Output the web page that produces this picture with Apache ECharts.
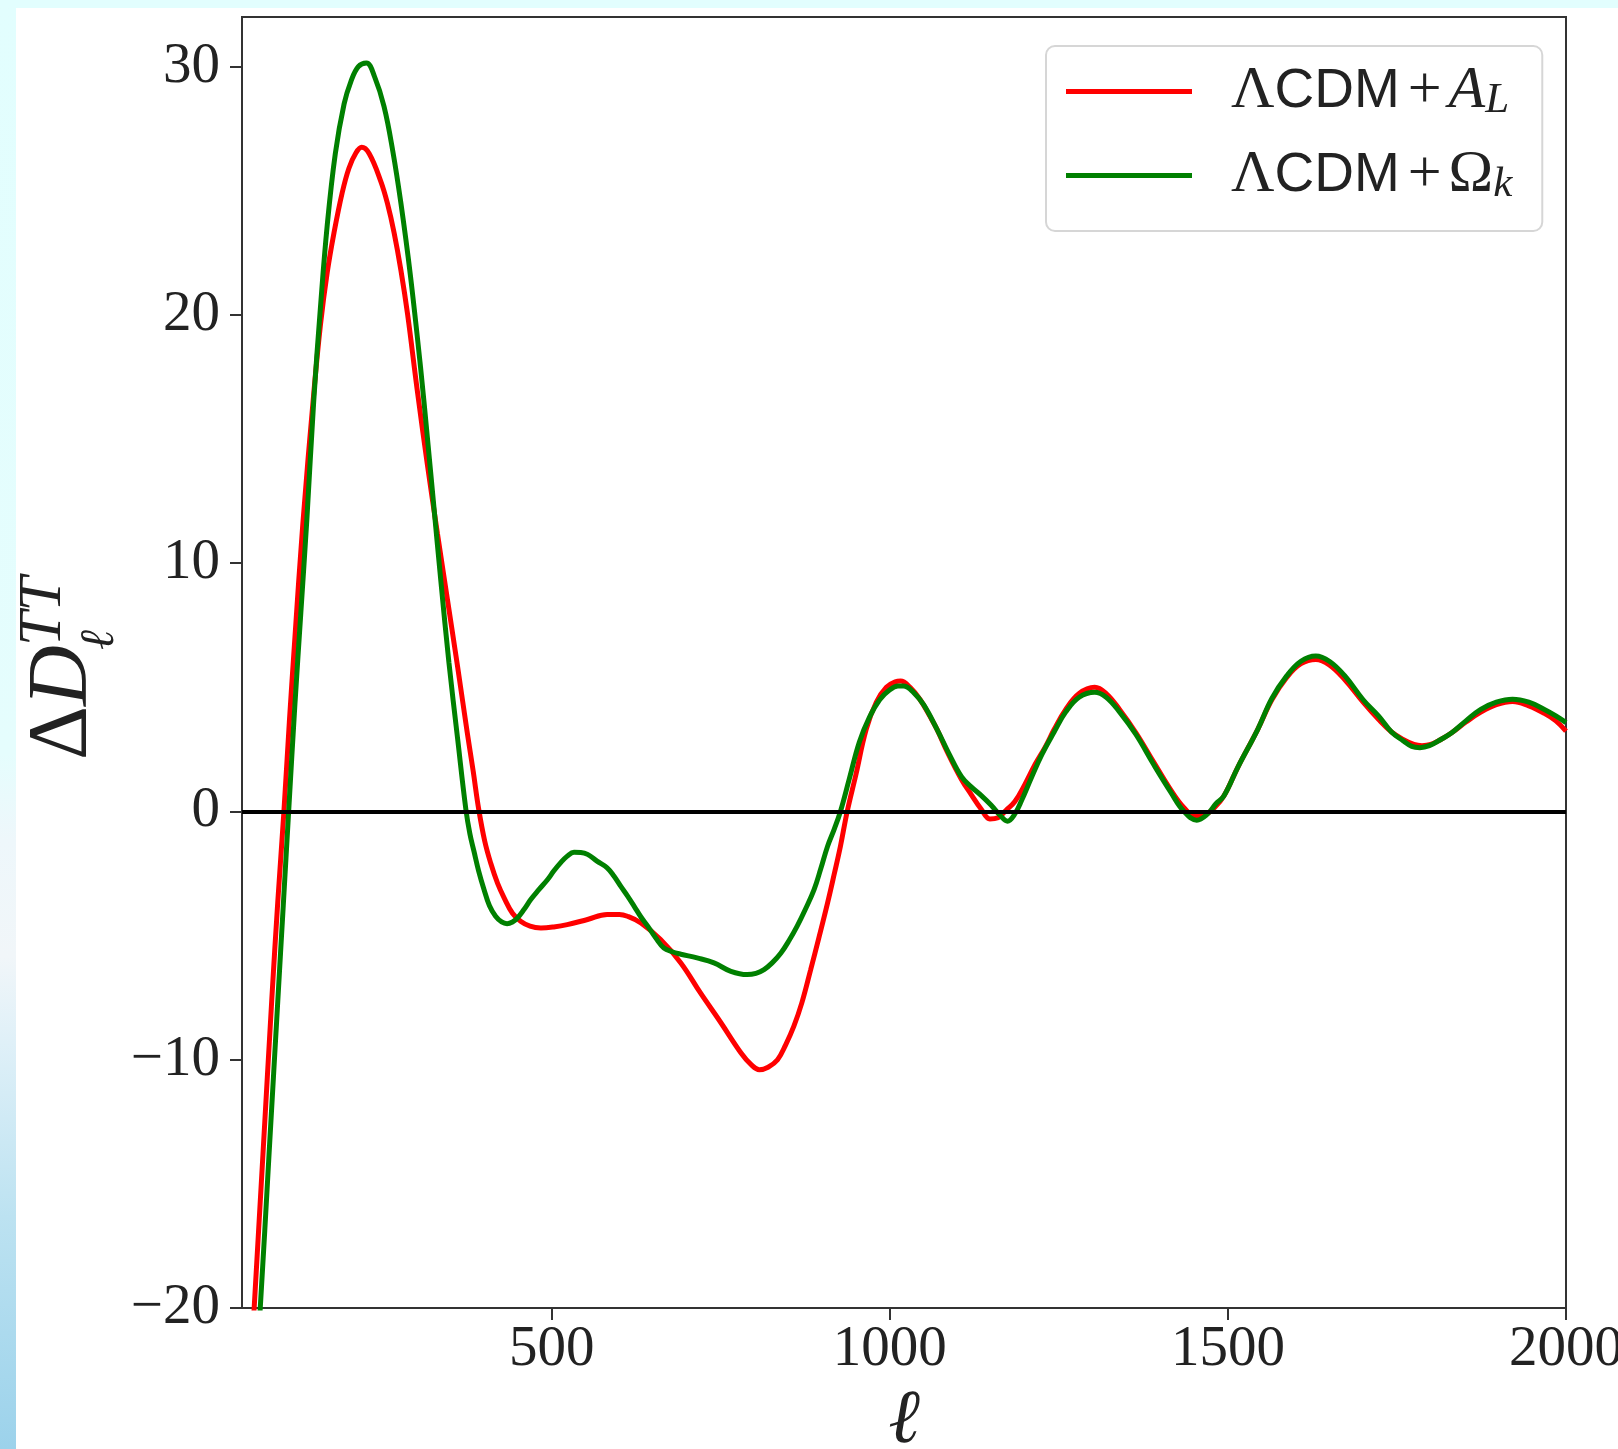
<!DOCTYPE html>
<html>
<head>
<meta charset="utf-8">
<script src="https://cdn.jsdelivr.net/npm/echarts@6/dist/echarts.min.js"></script>
<style>
  html, body { margin: 0; padding: 0; width: 1618px; height: 1449px; overflow: hidden; }
  body { background: linear-gradient(to bottom, #e2fefe 0%, #e5fdfd 52%, #eef7fb 58%, #f1f6f9 66%, #dff0f8 72%, #bce2f1 84%, #9cd2eb 100%); }
  #panel { position: absolute; left: 16px; top: 8px; right: 0; bottom: 0; background: #ffffff; }
  #chart { position: absolute; left: 0; top: 0; width: 1618px; height: 1449px; }
</style>
</head>
<body>
<div id="panel"></div>
<div id="chart"></div>
<script>
// ---- data ----
const xTicks = [500, 1000, 1500, 2000];
const yTicks = [-20, -10, 0, 10, 20, 30];
const seriesNames = ['ΛCDM+A_L', 'ΛCDM+Ω_k'];

const redEll = [
  42, 50, 60, 73, 86, 95, 104, 112, 120, 132,
  148, 158, 168, 178, 190, 200, 210, 219, 230, 247,
  257, 267, 277, 287, 301, 316, 331, 346, 361, 375,
  384, 392, 401, 410, 420, 430, 442, 454, 468, 484,
  503, 523, 553, 582, 600, 612, 632, 661, 691, 720,
  750, 780, 795, 807, 820, 834, 846, 858, 870, 883,
  895, 908, 918, 927, 937, 950, 965, 980, 995, 1008,
  1016, 1030, 1045, 1060, 1070, 1085, 1106, 1120, 1135, 1148,
  1160, 1172, 1185, 1200, 1215, 1230, 1243, 1260, 1280, 1303,
  1320, 1340, 1364, 1390, 1415, 1435, 1452, 1465, 1480, 1494,
  1515, 1544, 1565, 1587, 1608, 1630, 1650, 1673, 1700, 1723,
  1742, 1759, 1775, 1787, 1800, 1815, 1831, 1852, 1874, 1897,
  1921, 1945, 1968, 1985, 2000
];
const redDelta = [
  -28.6, -24.8, -20, -13.8, -7.6, -3.6, 0, 3.6, 6.9, 11.6,
  16.8, 19.6, 21.7, 23.3, 24.9, 25.9, 26.5, 26.75, 26.5, 25.4,
  24.5, 23.3, 21.8, 20.0, 17.0, 14.0, 11.2, 8.5, 5.8, 3.2,
  1.6, 0.1, -1.2, -2.1, -2.9, -3.5, -4.1, -4.42, -4.62, -4.69,
  -4.65, -4.56, -4.35, -4.15, -4.15, -4.22, -4.49, -5.16, -6.1, -7.31,
  -8.5, -9.73, -10.2, -10.4, -10.3, -10.0, -9.4, -8.66, -7.7, -6.37,
  -5.1, -3.68, -2.5, -1.4, 0, 1.5, 3.3, 4.4, 5.0, 5.22,
  5.25, 5.0, 4.5, 3.8, 3.3, 2.4, 1.29, 0.7, 0.1, -0.3,
  -0.25, 0.05, 0.4, 1.1, 1.9, 2.6, 3.3, 4.1, 4.75, 5.0,
  4.75, 4.1, 3.17, 2.0, 0.89, 0.15, -0.2, -0.15, 0.15, 0.62,
  1.8, 3.3, 4.5, 5.4, 5.95, 6.12, 5.9, 5.3, 4.4, 3.7,
  3.2, 2.9, 2.7, 2.65, 2.7, 2.9, 3.17, 3.6, 4.0, 4.3,
  4.43, 4.25, 3.95, 3.65, 3.24
];

const greenEll = [
  42, 55, 69, 82, 95, 103, 111, 120, 129, 138,
  148, 158, 168, 180, 193, 203, 214, 226, 238, 252,
  265, 277, 291, 306, 316, 326, 336, 348, 361, 373,
  379, 385, 392, 400, 408, 417, 426, 434, 442, 449,
  459, 469, 481, 494, 503, 513, 523, 533, 543, 553,
  567, 582, 592, 602, 612, 622, 632, 642, 654, 666,
  678, 691, 715, 740, 765, 789, 802, 814, 826, 839,
  851, 863, 875, 888, 898, 908, 918, 927, 940, 955,
  970, 985, 1000, 1012, 1020, 1035, 1050, 1070, 1088, 1106,
  1120, 1135, 1150, 1163, 1174, 1185, 1195, 1210, 1225, 1243,
  1260, 1280, 1303, 1320, 1340, 1364, 1390, 1415, 1435, 1454,
  1470, 1482, 1494, 1515, 1544, 1565, 1587, 1608, 1630, 1650,
  1673, 1700, 1723, 1742, 1759, 1772, 1784, 1798, 1815, 1831,
  1852, 1874, 1897, 1921, 1945, 1968, 1985, 2000
];
const greenDelta = [
  -31.5, -25.8, -20, -13.8, -7.6, -3.8, 0, 4.2, 8.0, 11.8,
  16.5, 20.3, 23.6, 26.5, 28.5, 29.4, 30.0, 30.15, 29.6, 28.4,
  26.6, 24.5, 21.6, 17.9, 15.1, 12.2, 9.3, 6.0, 2.9, 0.1,
  -0.9, -1.6, -2.4, -3.15, -3.8, -4.22, -4.45, -4.52, -4.45, -4.3,
  -3.95, -3.55, -3.15, -2.74, -2.4, -2.07, -1.8, -1.64, -1.65, -1.73,
  -2.0, -2.27, -2.6, -3.01, -3.4, -3.82, -4.25, -4.62, -5.1, -5.5,
  -5.65, -5.75, -5.9, -6.1, -6.44, -6.57, -6.52, -6.37, -6.1, -5.7,
  -5.2, -4.62, -3.95, -3.15, -2.3, -1.4, -0.7, 0, 1.3, 2.8,
  3.8, 4.5, 4.9, 5.05, 5.05, 4.8, 4.3, 3.3, 2.3, 1.4,
  1.0, 0.65, 0.25, -0.15, -0.39, -0.1, 0.45, 1.4, 2.3, 3.2,
  4.0, 4.6, 4.8, 4.6, 4.0, 3.1, 1.9, 0.8, 0.0, -0.35,
  -0.1, 0.3, 0.62, 1.8, 3.3, 4.55, 5.46, 6.05, 6.26, 6.05,
  5.46, 4.5, 3.84, 3.2, 2.85, 2.62, 2.57, 2.65, 2.9, 3.17,
  3.65, 4.11, 4.4, 4.52, 4.4, 4.11, 3.85, 3.58
];

// ---- build ----
function zip(xs, ys) { return xs.map((x, i) => [x, ys[i]]); }
const SERIF = '"Liberation Serif", "DejaVu Serif", serif';
const SANS = '"Liberation Sans", "DejaVu Sans", sans-serif';
const INK = '#222';

const legendRich = {
  n: { fontFamily: SERIF, fontSize: 60, lineHeight: 60, color: INK },
  nl: { fontFamily: SERIF, fontSize: 60, lineHeight: 60, color: INK, padding: [0, 0, 0, 34] },
  s: { fontFamily: SANS, fontSize: 55, lineHeight: 60, color: INK },
  p: { fontFamily: SERIF, fontSize: 60, lineHeight: 60, color: INK, padding: [0, 7, 0, 8] },
  i: { fontFamily: SERIF, fontStyle: 'italic', fontSize: 60, lineHeight: 60, color: INK },
  sub: { fontFamily: SERIF, fontStyle: 'italic', fontSize: 43, lineHeight: 42, color: INK, padding: [18, 0, 0, 0] }
};
function legendLabel(name) {
  if (name === seriesNames[0]) return '{nl|Λ}{s|CDM}{p|+}{i|A}{sub|L}';
  return '{nl|Λ}{s|CDM}{p|+}{n|Ω}{sub|k}';
}

const chart = echarts.init(document.getElementById('chart'), null, { renderer: 'canvas' });
chart.setOption({
  animation: false,
  backgroundColor: 'transparent',
  grid: {
    left: 242, right: 52, top: 17, bottom: 141,
    show: true, borderColor: '#333', borderWidth: 2,
    containLabel: false, outerBoundsMode: 'none'
  },
  xAxis: {
    type: 'value', min: 42, max: 2000,
    name: 'ℓ', nameLocation: 'middle', nameGap: 66,
    nameTextStyle: { fontFamily: SERIF, fontStyle: 'italic', fontSize: 76, color: INK },
    axisLine: { show: true, onZero: false, lineStyle: { color: '#333', width: 2 } },
    axisTick: { show: true, inside: false, length: 12, customValues: xTicks, lineStyle: { color: '#333', width: 2 } },
    axisLabel: {
      show: true, customValues: xTicks, margin: 14, fontFamily: SERIF, fontSize: 57, color: INK,
      formatter: v => String(v)
    },
    splitLine: { show: false }
  },
  yAxis: {
    type: 'value', min: -20, max: 32,
    axisLine: { show: true, onZero: false, lineStyle: { color: '#333', width: 2 } },
    axisTick: { show: true, inside: false, length: 12, customValues: yTicks, lineStyle: { color: '#333', width: 2 } },
    axisLabel: {
      show: true, customValues: yTicks, margin: 22, fontFamily: SERIF, fontSize: 57, color: INK,
      formatter: v => (v < 0 ? '\u2212' + Math.abs(v) : String(v))
    },
    splitLine: { show: false }
  },
  legend: {
    orient: 'vertical', left: 1046, top: 46,
    padding: [15, 30, 25, 20], itemGap: 23,
    itemWidth: 126, itemHeight: 5, icon: 'rect',
    backgroundColor: 'rgba(255,255,255,0.85)', borderColor: '#d6d6d6', borderWidth: 2, borderRadius: 9,
    data: seriesNames,
    formatter: legendLabel,
    textStyle: { rich: legendRich }
  },
  graphic: [{
    type: 'group', x: 64, y: 760, rotation: Math.PI / 2,
    children: [
      { type: 'text', x: 0, y: 0, style: {
        text: '{a|Δ}{b|D}', align: 'left', verticalAlign: 'middle',
        rich: {
          a: { fontFamily: SERIF, fontSize: 84, fill: INK, color: INK },
          b: { fontFamily: SERIF, fontStyle: 'italic', fontSize: 84, fill: INK, color: INK }
        }
      } },
      { type: 'text', x: 114, y: -20, style: {
        text: 'TT', align: 'left', verticalAlign: 'middle',
        fontFamily: SERIF, fontStyle: 'italic', fontSize: 62, fill: INK
      } },
      { type: 'text', x: 110, y: 36, style: {
        text: 'ℓ', align: 'left', verticalAlign: 'middle',
        fontFamily: SERIF, fontStyle: 'italic', fontSize: 48, fill: INK
      } }
    ]
  }],
  series: [
    {
      name: seriesNames[0], type: 'line', data: zip(redEll, redDelta),
      color: '#ff0000', showSymbol: false, symbol: 'none', smooth: 0.4, clip: true,
      lineStyle: { color: '#ff0000', width: 5 }, z: 3
    },
    {
      name: seriesNames[1], type: 'line', data: zip(greenEll, greenDelta),
      color: '#008000', showSymbol: false, symbol: 'none', smooth: 0.4, clip: true,
      lineStyle: { color: '#008000', width: 5 }, z: 4,
      markLine: {
        silent: true, symbol: ['none', 'none'], z: 6,
        label: { show: false },
        lineStyle: { color: '#000', width: 4, type: 'solid' },
        data: [{ yAxis: 0 }]
      }
    }
  ]
});
</script>
</body>
</html>
